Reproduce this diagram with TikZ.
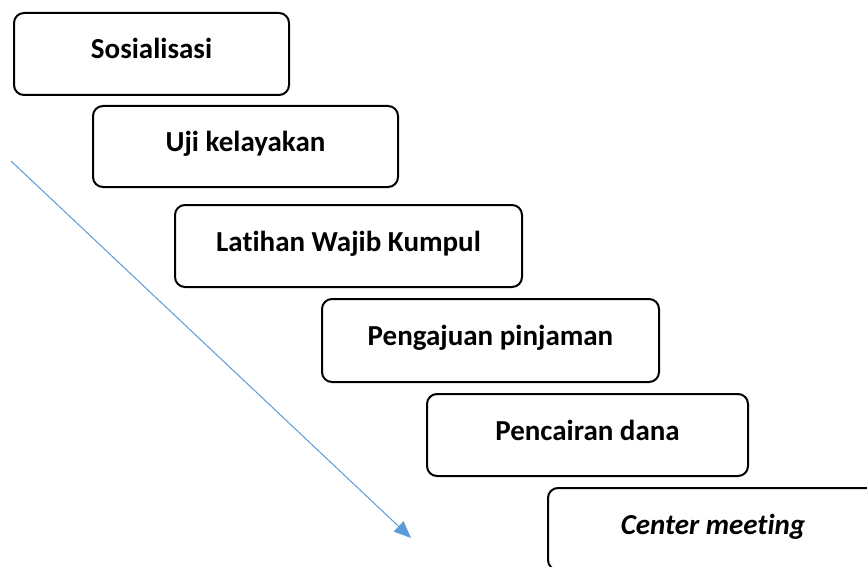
\documentclass[tikz,border=0pt]{standalone}
\usepackage{fontspec}
\setmainfont[Ligatures={NoCommon,NoRare}]{Carlito}
\usetikzlibrary{arrows.meta}
\definecolor{arrowblue}{HTML}{5B9BD5}
\tikzset{
  stepbox/.style={draw=black, line width=2pt, rounded corners=10pt, fill=white,
    font=\fontsize{29}{34}\selectfont\bfseries, text height=20pt, text depth=10pt,
    inner sep=0pt},
  flowarrow/.style={draw=arrowblue, line width=1pt, -{Triangle[length=17pt,width=14pt]}}
}
\begin{document}
\begin{tikzpicture}[x=1pt,y=-1pt]
  \useasboundingbox (0,0) rectangle (867,567);
  \clip (0,0) rectangle (867,567);
  \node[stepbox, minimum width=275pt, minimum height=82pt] (s1) at (151.5,54) {Sosialisasi};
  \node[stepbox, minimum width=305pt, minimum height=81pt] (s2) at (245.5,146.5) {Uji kelayakan};
  \node[stepbox, minimum width=347pt, minimum height=82pt] (s3) at (348.5,246) {Latihan Wajib Kumpul};
  \node[stepbox, minimum width=337pt, minimum height=83pt] (s4) at (490.5,340.5) {Pengajuan pinjaman};
  \node[stepbox, minimum width=321pt, minimum height=82pt] (s5) at (587.5,435) {Pencairan dana};
  \node[stepbox, minimum width=330pt, minimum height=82pt] (s6) at (713,529) {\itshape Center meeting};
  \coordinate (a1) at (11,161);
  \coordinate (a2) at (411,538);
  \draw[flowarrow] (a1) -- (a2);
\end{tikzpicture}
\end{document}
